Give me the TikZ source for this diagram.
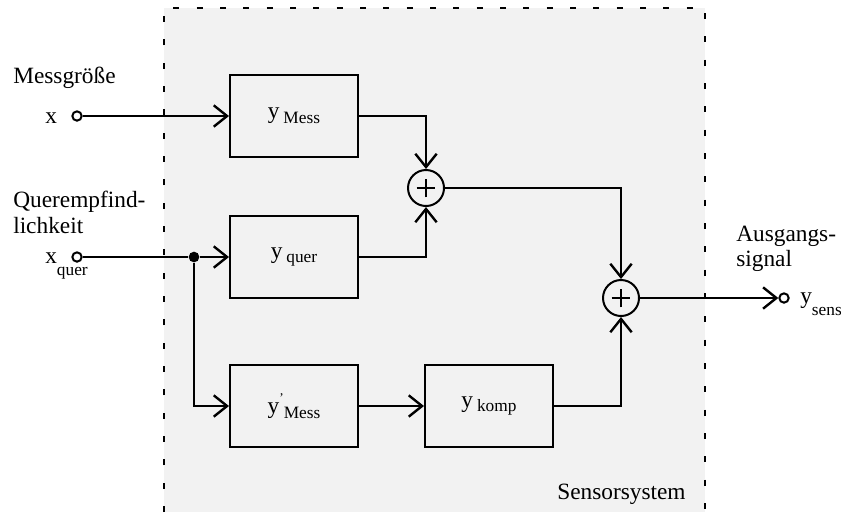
\documentclass[tikz,border=0pt]{standalone}
\usepackage{fontspec}
\setmainfont{Liberation Serif}
\usetikzlibrary{arrows.meta}

% text sizes
\newcommand\txtsize{\fontsize{17.5}{20}\selectfont}
\newcommand\subtxt[1]{\raisebox{-0.45ex}{\fontsize{13}{15}\selectfont #1}}
\newcommand\lowtxt[1]{\raisebox{-1.2ex}{\fontsize{13}{15}\selectfont #1}}

\tikzset{
  block/.style={draw, line width=1.5pt, minimum width=96pt, minimum height=61.5pt,
    inner sep=0pt, font=\txtsize},
  sumpoint/.style={draw, circle, line width=1.5pt, minimum size=27pt, inner sep=0pt,
    path picture={
      \draw[line width=1.6pt] ([xshift=-7pt]path picture bounding box.center) -- ++(14pt,0);
      \draw[line width=1.6pt] ([yshift=-7pt]path picture bounding box.center) -- ++(0,14pt);
    }},
  terminal/.style={draw, circle, line width=1.5pt, minimum size=7pt, inner sep=0pt, fill=white},
  branch/.style={circle, fill, minimum size=8pt, inner sep=0pt},
  signal/.style={line width=2pt, -{Straight Barb[length=10pt, width=16pt, line width=1.8pt]}},
  wire/.style={line width=2pt},
  lbl/.style={inner sep=0pt, anchor=base west, font=\txtsize},
  frame/.style={line width=2pt, dash pattern=on 4.5pt off 13pt},
}

\begin{document}
\begin{tikzpicture}[x=0.75pt, y=-0.75pt]

\useasboundingbox (0,0) rectangle (841,512);

% Sensorsystem frame (open at the bottom)
\fill[black!5] (164,8) rectangle (705,512);
\draw[frame] (164,512) -- (164,8) -- (705,8) -- (705,512);
\node[lbl] (sys) at (557,499) {Sensorsystem};

% inputs
\node[lbl] (messtxt) at (13,83) {Messgröße};
\node[lbl] (xtxt) at (45,123) {x};
\node[terminal] (inx) at (77,116) {};

\node[lbl] (quertxt1) at (13,207) {Querempfind-};
\node[lbl] (quertxt2) at (13,233) {lichkeit};
\node[lbl] (xqtxt) at (45,263) {x\lowtxt{quer}};
\node[terminal] (inq) at (77,257) {};
\node[branch] (split) at (194,257) {};

% blocks
\node[block] (ymess) at (294,116) {y\,\subtxt{Mess}};
\node[block] (yquer) at (294,257) {y\,\subtxt{quer}};
\node[block] (ymess2) at (294,406) {y\raisebox{1.1ex}{\fontsize{10}{10}\selectfont '}\subtxt{Mess}};
\node[block] (ykomp) at (489,406) {y\,\subtxt{komp}};

% summing points
\node[sumpoint] (sum1) at (426,188) {};
\node[sumpoint] (sum2) at (621,298) {};

% output
\node[terminal] (outy) at (784,298) {};
\node[lbl] (austxt1) at (736,241) {Ausgangs-};
\node[lbl] (austxt2) at (736,266) {signal};
\node[lbl] (ytxt) at (800,303) {y\lowtxt{sens}};

% connections
\draw[signal] (inx) -- (ymess);
\draw[wire] (inq) -- (split);
\draw[signal] (split) -- (yquer);
\draw[signal] (split) |- (ymess2);
\draw[signal] (ymess) -| (sum1);
\draw[signal] (yquer) -| (sum1);
\draw[signal] (ymess2) -- (ykomp);
\draw[signal] (sum1) -| (sum2);
\draw[signal] (ykomp) -| (sum2);
\draw[signal] (sum2) -- (outy);

\end{tikzpicture}
\end{document}
